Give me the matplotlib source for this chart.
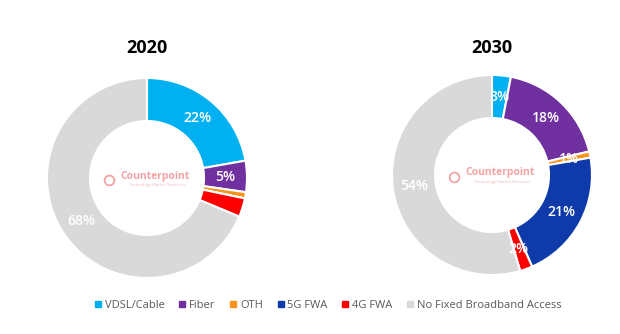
import matplotlib.pyplot as plt
from matplotlib.lines import Line2D

plt.rcParams['font.family'] = ['Open Sans', 'DejaVu Sans']

# segments and their shares (%)
segments = ['VDSL/Cable', 'Fiber', 'OTH', '5G FWA', '4G FWA', 'No Fixed Broadband Access']
colors = ['#00B0F0', '#7030A0', '#F7941D', '#0F3BAA', '#FF0000', '#D9D9D9']
share_2020 = [22, 5, 1, 0, 3, 68]
share_2030 = [3, 18, 1, 21, 2, 54]
labels_2020 = ['22%', '5%', '', '', '', '68%']
labels_2030 = ['3%', '18%', '1%', '21%', '2%', '54%']


def donut(ax, values, labels, title, cx):
    wedges, texts = ax.pie(values, colors=colors, startangle=90, counterclock=False,
                           labels=labels, labeldistance=0.785,
                           wedgeprops=dict(width=0.43, edgecolor='white', linewidth=1.5),
                           textprops=dict(color='white', fontsize=10, fontweight='semibold',
                                          ha='center', va='center'))
    ax.set_xlim(-1, 1)
    ax.set_ylim(-1, 1)
    ax.set_aspect('equal')
    # watermark
    ax.text(0.08, 0.02, 'Counterpoint', color='#F3A3A3', fontsize=7.5, fontweight='bold',
            ha='center', va='center')
    ax.text(0.1, -0.07, 'Technology Market Research', color='#F3B8B8', fontsize=3,
            ha='center', va='center')
    ax.plot([-0.38], [-0.02], marker='o', markersize=7, markerfacecolor='none',
            markeredgecolor='#F3A3A3', markeredgewidth=1.3)
    fig.text(cx / 620, 1 - 48 / 334, title, fontsize=13, fontweight='bold',
             ha='center', va='center')


fig = plt.figure(figsize=(6.2, 3.34), dpi=100)
ax1 = fig.add_axes([47 / 620, 56 / 334, 200 / 620, 200 / 334])
ax2 = fig.add_axes([392 / 620, 59 / 334, 200 / 620, 200 / 334])

donut(ax1, share_2020, labels_2020, '2020', 147)
donut(ax2, share_2030, labels_2030, '2030', 492)

handles = [Line2D([0], [0], marker='s', linestyle='none', markersize=4,
                  markerfacecolor=c, markeredgecolor=c) for c in colors]
fig.legend(handles, segments, loc='center', bbox_to_anchor=(328 / 620, 1 - 305 / 334),
           ncol=6, frameon=False, fontsize=8, handlelength=0.6, handletextpad=0.3,
           columnspacing=1.3, labelcolor='#595959')

fig.savefig('out.png', dpi=100)
